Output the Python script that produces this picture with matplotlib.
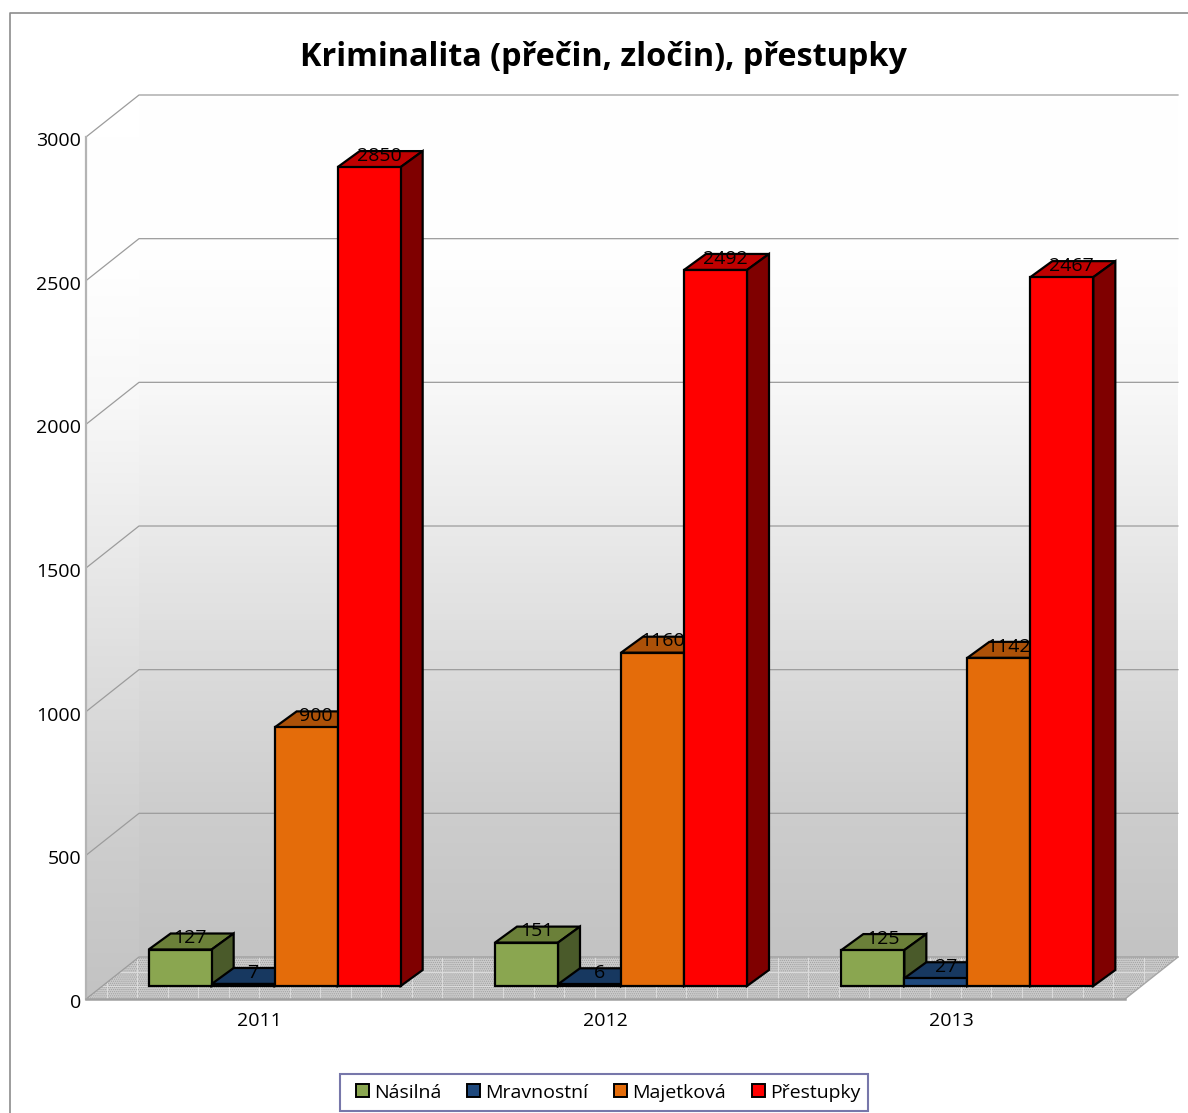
import numpy as np
import matplotlib
matplotlib.use("Agg")
import matplotlib.pyplot as plt
from matplotlib.patches import Polygon, Patch, Rectangle
from matplotlib.colors import LinearSegmentedColormap
from matplotlib.transforms import ScaledTranslation

# =====================================
# Data
# =====================================

years = ["2011", "2012", "2013"]
series_names = ["Násilná", "Mravnostní", "Majetková", "Přestupky"]

nasilna = [127, 151, 125]
mravnostni = [7, 6, 27]
majetkova = [900, 1160, 1142]
prestupky = [2850, 2492, 2467]

y_ticks = [0, 500, 1000, 1500, 2000, 2500, 3000]

# front, top, side
green = ["#8aa650", "#6b8039", "#4a5a2a"]
navy = ["#1f497d", "#173860", "#10284a"]
orange = ["#e46c0a", "#ac5108", "#7f3c06"]
red = ["#ff0000", "#c00000", "#7f0000"]

# =====================================
# Figure
# =====================================

W, H = 1188, 1113
plt.rcParams["font.family"] = ["Open Sans", "DejaVu Sans"]
plt.rcParams["hatch.linewidth"] = 0.6

fig = plt.figure(figsize=(W / 100, H / 100), dpi=100)
ax = fig.add_axes([86 / W, 1 - 999 / H, (1125 - 86) / W, (999 - 137) / H])
ax.set_xlim(0, 3)
ax.set_ylim(0, 3000)
ax.patch.set_alpha(0)

# depth of the 3D box, in data units
px_x = 3 / (1125 - 86)
px_y = 3000 / (999 - 137)
wall_dx, wall_dy = 53 * px_x, 42 * px_y
base_dx, base_dy = 15.5 * px_x, 13 * px_y
bar_dx, bar_dy = 22 * px_x, 16 * px_y
bar_w = 63 * px_x

# outer frame of the chart area
fig.add_artist(plt.Line2D([10 / W, 10 / W, 1], [0, 1 - 13 / H, 1 - 13 / H],
                          color="#8c8c8c", lw=1.2))

# =====================================
# Walls
# =====================================

wall_cmap = LinearSegmentedColormap.from_list(
    "wall",
    [(0, "#ffffff"), (0.2, "#fefefe"), (0.334, "#f8f8f8"), (0.5, "#eaeaea"),
     (0.667, "#dbdbdb"), (0.834, "#cdcdcd"), (1, "#c3c3c3")],
)
grad = np.linspace(0, 1, 256).reshape(-1, 1)

back = ax.imshow(grad, cmap=wall_cmap, aspect="auto", zorder=1,
                 extent=[wall_dx, 3 + wall_dx, wall_dy, 3000 + wall_dy], clip_on=False)

side = ax.imshow(grad, cmap=wall_cmap, aspect="auto", zorder=1,
                 extent=[0, wall_dx, 0, 3000 + wall_dy])
side_clip = Polygon([(0, 0), (wall_dx, wall_dy), (wall_dx, 3000 + wall_dy), (0, 3000)],
                    transform=ax.transData, fill=False, edgecolor="none")
ax.add_patch(side_clip)
side.set_clip_path(side_clip)
ax.set_xlim(0, 3)
ax.set_ylim(0, 3000)

# floor
floor = Polygon([(0, 0), (3, 0), (3 + wall_dx, wall_dy), (wall_dx, wall_dy)],
                facecolor="#cccccc", edgecolor="#a0a0a0", hatch="........",
                lw=0, zorder=2, clip_on=False)
ax.add_patch(floor)

# floor tiles
tile_clip = Polygon(floor.get_xy(), transform=ax.transData, fill=False, edgecolor="none")
ax.add_patch(tile_clip)
tile_lines = []
for tx in np.arange(0.06, 3 + wall_dx, 30.5 * px_x):
    tile_lines.append(ax.plot([tx, tx], [0, wall_dy], color="#dcdcdc", lw=0.7, zorder=2.5)[0])
for ty in [wall_dy * 0.3, wall_dy * 0.65]:
    tile_lines.append(ax.plot([0, 3 + wall_dx], [ty, ty], color="#dcdcdc", lw=0.7, zorder=2.5)[0])
for tile in tile_lines:
    tile.set_clip_box(None)
    tile.set_clip_path(tile_clip)
ax.set_xlim(0, 3)
ax.set_ylim(0, 3000)

# gridlines on the walls
for t in y_ticks:
    ax.plot([0, wall_dx, 3 + wall_dx], [t, t + wall_dy, t + wall_dy],
            color="#9c9c9c", lw=0.9, zorder=3, clip_on=False)

ax.plot([3, 3 + wall_dx], [0, wall_dy], color="#a6a6a6", lw=1, zorder=3, clip_on=False)

# =====================================
# Bars
# =====================================

all_series = [nasilna, mravnostni, majetkova, prestupky]
all_colors = [green, navy, orange, red]
z = 5


def draw_bar(x0, value, cols, z):
    y0 = base_dy
    y1 = base_dy + value
    x1 = x0 + bar_w
    edge = dict(edgecolor="black", lw=1.6, zorder=z, clip_on=False, joinstyle="miter")
    ax.add_patch(Polygon([(x0, y1), (x1, y1), (x1 + bar_dx, y1 + bar_dy), (x0 + bar_dx, y1 + bar_dy)],
                         facecolor=cols[1], **edge))
    ax.add_patch(Polygon([(x1, y0), (x1 + bar_dx, y0 + bar_dy), (x1 + bar_dx, y1 + bar_dy), (x1, y1)],
                         facecolor=cols[2], **edge))
    ax.add_patch(Polygon([(x0, y0), (x1, y0), (x1, y1), (x0, y1)],
                         facecolor=cols[0], **edge))


for g in range(len(years)):
    left = g + 0.5 + base_dx - 2 * bar_w
    for s in range(len(all_series)):
        draw_bar(left + s * bar_w, all_series[s][g], all_colors[s], z)
        z += 1

for g in range(len(years)):
    left = g + 0.5 + base_dx - 2 * bar_w
    for s in range(len(all_series)):
        val = all_series[s][g]
        ax.text(left + s * bar_w + bar_w / 2 + bar_dx / 2 - 1 * px_x,
                val + base_dy + bar_dy * 0.7, str(val),
                ha="center", va="center", fontsize=14, color="black",
                zorder=50, clip_on=False)

# =====================================
# Axes, title, legend
# =====================================

for name in ["top", "right"]:
    ax.spines[name].set_visible(False)
ax.spines["left"].set_color("#b4b4b4")
ax.spines["left"].set_linewidth(1.6)
ax.spines["bottom"].set_color("#a0a0a0")
ax.spines["bottom"].set_linewidth(1.8)
ax.spines["left"].set_zorder(4)
ax.spines["bottom"].set_zorder(4)

ax.set_yticks(y_ticks)
ax.set_yticklabels([str(t) for t in y_ticks], fontsize=14)
ax.set_xticks([0.5, 1.5, 2.5])
ax.set_xticklabels(years, fontsize=14)
ax.tick_params(length=0)
ax.tick_params(axis="y", pad=3.5)
ax.tick_params(axis="x", pad=9)

# value tick labels sit a little lower than the gridline corners in the original
shift = ScaledTranslation(0, -2 / 100, fig.dpi_scale_trans)
for label in ax.get_yticklabels():
    label.set_transform(label.get_transform() + shift)

fig.text(603 / W, 1 - 58 / H, "Kriminalita (přečin, zločin), přestupky",
         ha="center", va="center", fontsize=23.3, fontweight="bold")

# legend box is not symmetric around its entries, so it is drawn on its own
fig.add_artist(Rectangle((340 / W, 1 - 1111 / H), 528 / W, 37 / H,
                         transform=fig.transFigure, facecolor="white",
                         edgecolor="#7777aa", lw=1.5, zorder=10))
handles = [Patch(facecolor=c[0], edgecolor="black", lw=1.4) for c in all_colors]
leg = fig.legend(handles, series_names, ncol=4, fontsize=14,
                 loc="center left", bbox_to_anchor=(356 / W, 1 - 1092.5 / H),
                 frameon=False, borderpad=0, borderaxespad=0,
                 handlelength=0.67, handleheight=0.67, handletextpad=0.24, columnspacing=1.35)
leg.set_zorder(11)

fig.savefig("out.png", dpi=100)
